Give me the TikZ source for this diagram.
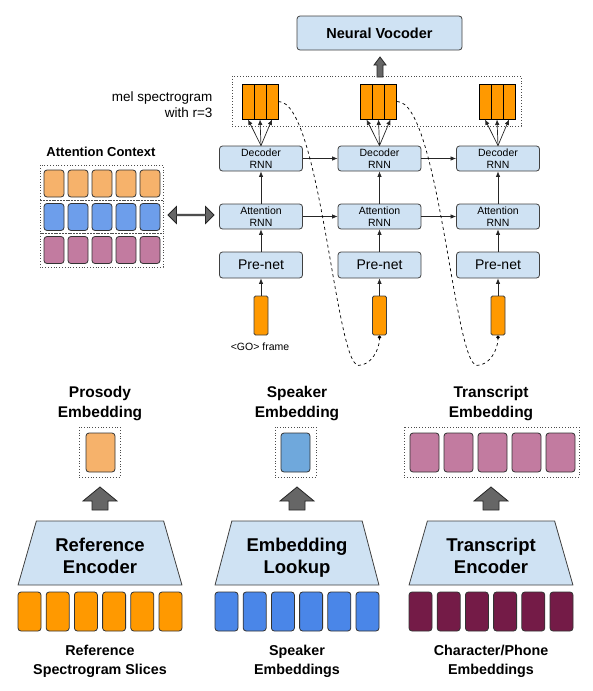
\documentclass[tikz,border=0pt]{standalone}
\usepackage{fontspec}
\setmainfont{Liberation Sans}
\usetikzlibrary{arrows.meta,shapes.arrows,shapes.geometric,calc}

\definecolor{boxblue}{HTML}{CFE2F3}
\definecolor{melorange}{HTML}{FF9900}
\definecolor{lightorange}{HTML}{F6B26B}
\definecolor{ctxblue}{HTML}{6D9EEB}
\definecolor{ctxpurple}{HTML}{C27BA0}
\definecolor{spkblue}{HTML}{6FA8DC}
\definecolor{lookblue}{HTML}{4A86E8}
\definecolor{maroon}{HTML}{741B47}

% tip, length, head length, head width, shaft width
\def\fatup(#1)(#2:#3:#4:#5){\draw[fatarrow] (#1) -- ++(#4/2,#3) -- ++(-#4/2+#5/2,0) -- ++(0,#2-#3) -- ++(-#5,0) -- ++(0,-#2+#3) -- ++(-#4/2+#5/2,0) -- cycle;}

\tikzset{
	rnnbox/.style={draw=black!75, fill=boxblue, rounded corners=3pt, line width=0.8pt, minimum width=83pt, minimum height=25pt, inner sep=0pt, align=center, font=\fontsize{10.5}{12.5}\selectfont},
	prenet/.style={rnnbox, minimum height=26pt, font=\fontsize{14}{16}\selectfont},
	melbar/.style={draw=black, fill=melorange, line width=0.9pt, minimum width=12pt, minimum height=35pt, inner sep=0pt},
	goframe/.style={draw=black!75, fill=melorange, rounded corners=1.5pt, line width=0.8pt, minimum width=14pt, minimum height=39pt, inner sep=0pt},
	cell/.style={draw=black!80, rounded corners=3pt, line width=0.8pt, inner sep=0pt},
	ctxcell/.style={cell, minimum width=20pt, minimum height=27pt},
	embcell/.style={cell, minimum width=29pt, minimum height=39pt},
	inpcell/.style={cell, minimum width=23pt, minimum height=39pt},
	dotbox/.style={draw=black!70, dotted, line width=0.8pt},
	arr/.style={-{Latex[length=5.5pt,width=4.5pt]}, line width=0.7pt, draw=black!85},
	feedback/.style={dashed, line width=0.7pt, -{Circle[length=3.5pt]}},
	fatarrow/.style={draw=black!85, fill=black!60, line width=0.8pt, line join=miter},
	encoder/.style={trapezium, trapezium stretches=true, trapezium angle=76, draw=black!75, fill=boxblue, line width=0.8pt, minimum width=164pt, minimum height=64pt, align=center, font=\bfseries\fontsize{18.5}{22}\selectfont},
	title/.style={align=center, font=\bfseries\fontsize{15.5}{20}\selectfont},
	caption/.style={align=center, font=\bfseries\fontsize{14.3}{19}\selectfont},
}

\begin{document}
\begin{tikzpicture}[x=1pt, y=-1pt]
	%%%%% DECODER %%%%%
	\useasboundingbox (0,0) rectangle (593,691);
	
	\node[rnnbox, font=\bfseries\fontsize{14.5}{16}\selectfont, minimum width=165pt, minimum height=34pt] (vocoder) at (379.5,33) {Neural Vocoder};
	\fatup(380,57)(20:8:12:6)
	
	\draw[dotbox] (232,76) rectangle (521,126);
	\node[anchor=east, align=right, font=\fontsize{13.5}{16}\selectfont] (mellabel) at (216,105) {mel spectrogram\\with r=3};
	
	\foreach \i/\x in {1/261, 2/379.5, 3/498} {
		\node[melbar] (mel\i b) at (\x-1,101.5) {};
		\node[melbar] (mel\i a) at (\x-13,101.5) {};
		\node[melbar] (mel\i c) at (\x+11,101.5) {};
		\node[rnnbox] (dec\i) at (\x,158.5) {Decoder\\RNN};
		\node[rnnbox] (att\i) at (\x,216.5) {Attention\\RNN};
		\node[prenet] (pre\i) at (\x,265) {Pre-net};
		\node[goframe] (go\i) at (\x,315.5) {};
		\draw[arr] (dec\i.north) -- (mel\i a.south);
		\draw[arr] (dec\i.north) -- (mel\i b.south);
		\draw[arr] (dec\i.north) -- (mel\i c.south);
		\draw[arr] (att\i.north) -- (dec\i.south);
		\draw[arr] (pre\i.north) -- (att\i.south);
		\draw[arr] (go\i.north) -- (pre\i.south);
	}
	\node[font=\fontsize{10.5}{12}\selectfont] (golabel) at (260,347) {<GO> frame};
	
	\draw[arr] (dec1.east) -- (dec2.west);
	\draw[arr] (dec2.east) -- (dec3.west);
	\draw[arr] (att1.east) -- (att2.west);
	\draw[arr] (att2.east) -- (att3.west);
	
	\draw[feedback] (mel1c.east) .. controls +(42,0) and +(-23,0) .. ($(go2.south)+(-21,30)$) .. controls +(12,0) and +(0,15) .. (go2.south);
	\draw[feedback] (mel2c.east) .. controls +(42,0) and +(-23,0) .. ($(go3.south)+(-21,30)$) .. controls +(12,0) and +(0,15) .. (go3.south);
	
	%%%%% ATTENTION CONTEXT %%%%%
	\node[font=\bfseries\fontsize{13}{15}\selectfont] (ctxlabel) at (101,152) {Attention Context};
	\draw[dotbox] (40,165) rectangle (163,200);
	\draw[dotbox] (40,200) rectangle (163,233);
	\draw[dotbox] (40,233) rectangle (163,267);
	\foreach \i in {1,...,5} {
		\node[ctxcell, fill=lightorange] (ctxa\i) at (30+24*\i,183.5) {};
		\node[ctxcell, fill=ctxblue] (ctxb\i) at (30+24*\i,217) {};
		\node[ctxcell, fill=ctxpurple] (ctxc\i) at (30+24*\i,250) {};
	}
	\node[double arrow, draw=black!85, fill=black!60, line width=0.8pt, minimum height=46pt, minimum width=17pt, double arrow head extend=4.5pt, inner sep=0pt] (ctxarrow) at (191,215) {};
	
	%%%%% ENCODERS %%%%%
	\node[title] (prostitle) at (100,404) {Prosody\\Embedding};
	\draw[dotbox] (79,427) rectangle (120,477);
	\node[embcell, fill=lightorange] (prosemb) at (100.5,452.5) {};
	\fatup(100,487)(23:14:34:16)
	\node[encoder] (refenc) at (100,553) {\rule{0pt}{23pt}Reference\\Encoder\vphantom{p}};
	\foreach \i in {0,...,5}
		\node[inpcell, fill=melorange] (ref\i) at (29.5+28.2*\i,611.5) {};
	\node[caption] (refcap) at (100,661) {Reference\\Spectrogram Slices};
	
	\node[title] (spktitle) at (297,404) {Speaker\\Embedding};
	\draw[dotbox] (275,427) rectangle (316,477);
	\node[embcell, fill=spkblue] (spkemb) at (295.5,452.5) {};
	\fatup(297,487)(23:14:34:16)
	\node[encoder] (lookup) at (297,553) {\rule{0pt}{23pt}Embedding\\Lookup\vphantom{p}};
	\foreach \i in {0,...,5}
		\node[inpcell, fill=lookblue] (spk\i) at (226.5+28.2*\i,611.5) {};
	\node[caption] (spkcap) at (297,661) {Speaker\\Embeddings};
	
	\node[title] (txttitle) at (491,404) {Transcript\\Embedding};
	\draw[dotbox] (404,427) rectangle (579,477);
	\foreach \i in {0,...,4}
		\node[embcell, fill=ctxpurple] (txtemb\i) at (424.5+34*\i,452.5) {};
	\fatup(491,487)(23:14:34:16)
	\node[encoder] (txtenc) at (491,553) {\rule{0pt}{23pt}Transcript\\Encoder\vphantom{p}};
	\foreach \i in {0,...,5}
		\node[inpcell, fill=maroon] (chr\i) at (420.5+28.2*\i,611.5) {};
	\node[caption] (txtcap) at (491,661) {Character/Phone\\Embeddings};
	
	%%%%% END %%%%%
\end{tikzpicture}
\end{document}
